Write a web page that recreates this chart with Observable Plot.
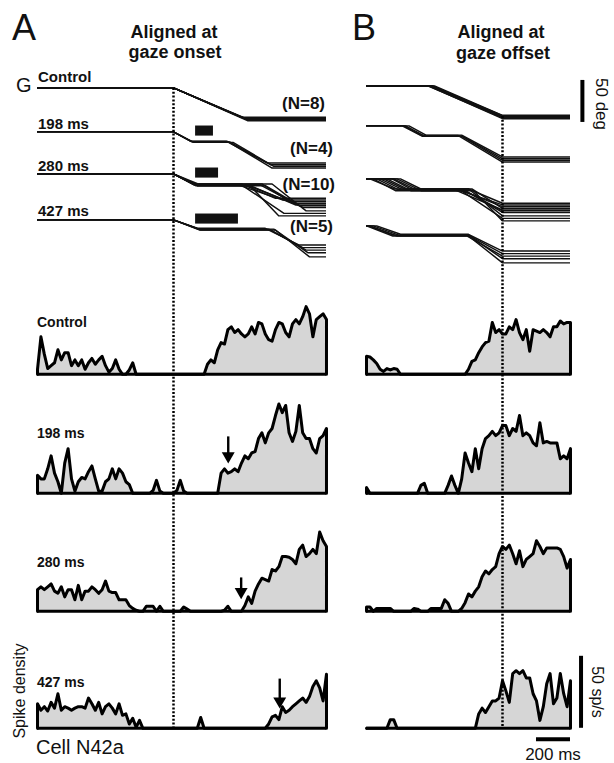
<!DOCTYPE html>
<html><head><meta charset="utf-8">
<script src="https://cdn.jsdelivr.net/npm/d3@7"></script>
<script src="https://cdn.jsdelivr.net/npm/@observablehq/plot@0.6"></script>
<style>
html,body{margin:0;padding:0;background:#fff;overflow:hidden}
#fig{position:relative;width:614px;height:763px;font-family:"Liberation Sans",Arial,Helvetica,sans-serif;color:#111;overflow:hidden}
#fig svg{position:absolute}
.lbl{position:absolute;white-space:nowrap;line-height:1}
</style></head><body><div id="fig"></div>
<script>
// ================= DATA =================
const conditions = ["Control", "198 ms", "280 ms", "427 ms"];
const trialCounts = ["(N=8)", "(N=4)", "(N=10)", "(N=5)"];

// time samples (ms) of spike density traces
const timeA = d3.range(-800, 901, 20);   // aligned at gaze onset
const timeB = d3.range(-800, 401, 20);   // aligned at gaze offset

// spike density (sp/s), column A (aligned at gaze onset)
const spikeA_control = [3.5,26,14,4,6,8,17,10,15,15, 6,10,6,10,3.5,8,11,7,10,12.5, 6,1.5,4,10,3.5,0,0,3,8,0,
  0,0,0,0,0,0,0,0,0,0, 0,0,0,0,0,0,0,0,0,0,
  7,10,8,17,22,21,31,33,29,31, 28,26,28,33,28,36,35,28,24,23, 31,36,35,29,26,35,38,35,40,47, 42,26,38,40,42,38];
const spikeA_198 = [12.5,10,10,17,26,14,8,0,21,31, 10,1.5,8,11,10,15,19,10,1.5,1.5, 8,10,17,10,17,14,8,6,0,0,
  0,0,0,0,2,9,1.5,0,0,0, 0,2,9,1.5,0,0,0,0,0,0, 0,0,0,0,14,17,14,15,17,15,
  21,26,24,28,29,38,42,35,42,45, 54,62,56,61,42,36,43,61,42,38, 38,31,28,38,40,45];
const spikeA_280 = [15,17,15,17,19,14,12.5,17,10,15, 15,8,18,8,14,14,17,15,12.5,15, 21,14,13,13,8,8,8,4,2,0.7,
  0,0,3.5,3.5,3.5,0,3.5,0,0,0, 0,0,0,3,1.5,0,0,0,0,0, 0,0,0,0,0,0.7,3.5,0,0,0,
  0,4,10,5.5,14,19,23,22,21,29, 28,31,38,38,37.5,36,33,43,46,38, 40,43,40,55,49,45];
const spikeA_427 = [17,12.5,15,12,18,14,24,12.5,15,14, 12.5,14,15,15,14,21,17,12.5,18,10, 15,17,14,10,17,9,10,3,7,0.7,
  5.5,0,0,0,0,0,0,0,0,0, 0,0,0,0,0,0,0,0,7.5,0, 0,0,0,0,0,0,0,0,0,0,
  0,0,0,0,0,0,0,0,3,8, 9,6,15,11,12.5,15,17,19,21,18, 22,29,33,28,19,37.5];

// spike density (sp/s), column B (aligned at gaze offset)
const spikeB_control = [12.5,12,10,7.5,3.5,2,4,3,4,3.5, 0,0,0,0,0,0,0,0,0,0, 0,0,0,0,0,0,0,0,0,0,
  3.5,9,10,15,19,22,23,36,29,31, 28,28,33,31,38,29,24,31,16,31, 30,29,31,29,26,33,33,37,35,36, 36];
const spikeB_198 = [4,0,0,0,0,0,0,0,0,0, 0,0,0,0,0,0,5.5,7,0,0, 0,0,0,0,5.5,12,5.5,0,10,28,
  21,15,31,17,31,38,40,43,40,42, 47,47,40,45,43,54,40,42,40,35, 33,49,35,36,35,35,35,24,26,24, 31];
const spikeB_280 = [3,3,0,2,2,2,2,2,0,0, 0,0,0,0,2,1.5,0,0,0,2, 2,2,2,8,5.5,0,0,0,2,6,
  12,10,14,17,24,28,26,29,31,40, 45,43,46,40,33,42,31,36,38,40, 49,45,40,44,44,44,44,43,38,30, 36];
const spikeB_427 = [0,0,0,0,0,0,0,6,6,0, 0,0,0,0,0,0,0,0,0,0, 0,0,0,0,0,0,0,0,0,0,
  0,0,0,10,14,11,15,19,19,21, 33,26,18,38,40,38,40,35,35,24, 19,5.5,15,31,38,17,21,38,24,15, 33];

// arrows marking response onset (column A), ms and sp/s
const arrowTime = [null, 322, 398, 625];
const arrowTop  = [null, 35, 19, 30];
const arrowTip  = [null, 21, 8.7, 14];

// gaze trials (ms after gaze onset, amplitude in deg)
const ctlEnd = [400,410,420,425,430,440,415,435];
const ctlAmp = [35,36,36.5,37,37.5,38,35.5,39];
const s198Step1End = [100,110,120,105];
const s198Step1Amp = [11,12,12.5,11.5];
const s198Step2Start = [310,330,350,320];
const s198Step2End = [550,570,590,580];
const s198Amp = [37,39,41,43];
const s280Step1End = [120,130,140,125,135,130,145,120,140,130];
const s280Step1Amp = [12,13,14,12,13,14,12,13,14,13];
const s280Step2Start = [400,380,440,520,440,540,580,400,450,510];
const s280Step2End = [600,640,680,700,720,760,780,650,620,740];
const s280Amp = [29,31,33,35,37,40,44,47,50,38];
const s427Step1End = [140,150,160,150,155];
const s427Step1Amp = [10,11,12,11,12];
const s427Step2Start = [540,560,570,590,600];
const s427Step2End = [740,760,780,790,800];
const s427Amp = [30,33,36,39,44];

// stimulation bars (ms after gaze onset)
const stimStart = [130, 130, 130];
const stimEnd = [235, 265, 382];

// scale bars
const scaleDeg = 50, scaleRate = 50, scaleTime = 200;

// ================= LAYOUT =================
const fig = document.getElementById("fig");
const MS = 0.17, SP = 1.44, DG = 0.84;
const colA = {domain: [-800, 900], zero: 173, ml: 12, mr: 12};
const colB = {domain: [-800, 400], zero: 502, ml: 12, mr: 40};
const gazeBaseA = [87.5, 131, 173.5, 219.5];
const gazeBaseB = [85.5, 125.7, 178.3, 225];
const spikeBase = [373.5, 493, 610.5, 727.5];

function plotAt(col, top, height, yopt, marks) {
  const xl = col.zero + MS * col.domain[0], xr = col.zero + MS * col.domain[1];
  const width = col.ml + (xr - xl) + col.mr;
  const opts = {width, height, marginLeft: col.ml, marginRight: col.mr, marginTop: 0, marginBottom: 0,
    x: {domain: col.domain, axis: null}, marks,
    style: {background: "transparent", overflow: "visible"}};
  if (yopt) opts.y = yopt;
  const svg = Plot.plot(opts);
  svg.style.left = (xl - col.ml) + "px";
  svg.style.top = top + "px";
  fig.appendChild(svg);
}

function trialsOf(e1, a1, s2, e2, a2) {
  return e1.map((_, i) => ({e1: e1[i], a1: a1[i], s2: s2[i], e2: e2[i], a2: a2[i]}));
}
const gazeTrials = [
  trialsOf(ctlEnd, ctlAmp, ctlEnd, ctlEnd, ctlAmp),
  trialsOf(s198Step1End, s198Step1Amp, s198Step2Start, s198Step2End, s198Amp),
  trialsOf(s280Step1End, s280Step1Amp, s280Step2Start, s280Step2End, s280Amp),
  trialsOf(s427Step1End, s427Step1Amp, s427Step2Start, s427Step2End, s427Amp)
];

function gazePanel(col, base, trials, alignOffset, extra) {
  const lo = -10, hi = 60;
  const top = base + DG * lo - 4, height = DG * (hi - lo) + 8;
  const pts = [];
  trials.forEach((tr, k) => {
    const sh = alignOffset ? -tr.e2 : 0;
    const seq = [[Math.min(col.domain[0], sh), 0], [sh, 0], [sh + tr.e1, tr.a1], [sh + tr.s2, tr.a1],
                 [sh + tr.e2, tr.a2], [col.domain[1], tr.a2]];
    seq.forEach(([t, a]) => pts.push({trial: k, t, a}));
  });
  const marks = [
    Plot.line(pts, {x: "t", y: "a", z: "trial", stroke: "#111", strokeWidth: 1.45, strokeLinejoin: "round", clip: true}),
    ...(extra || [])
  ];
  plotAt(col, top, height, {domain: [lo, hi], range: [base - top + DG * lo, base - top + DG * hi], axis: null}, marks);
}

function spikePanel(col, base, times, vals, extra, lo = -4) {
  const hi = 70;
  const top = base - SP * hi - 4, height = SP * (hi - lo) + 8;
  const pts = times.map((t, i) => ({t, v: vals[i]}));
  const outline = [{t: times[0], v: 0}, ...pts, {t: times[times.length - 1], v: 0}];
  const marks = [
    Plot.areaY(pts, {x: "t", y: "v", fill: "#d6d6d6"}),
    Plot.ruleY([0], {stroke: "#000", strokeWidth: 3}),
    Plot.line(outline, {x: "t", y: "v", stroke: "#000", strokeWidth: 3, strokeLinejoin: "round"}),
    ...(extra || [])
  ];
  plotAt(col, top, height, {domain: [lo, hi], range: [base - top - SP * lo, base - top - SP * hi], axis: null}, marks);
}

// ---- gaze panels ----
gazeTrials.forEach((trials, i) => {
  const extraA = i > 0 ? [Plot.rect([{s: stimStart[i - 1], e: stimEnd[i - 1]}], {x1: "s", x2: "e", y1: -7, y2: 5, fill: "#111"})] : [];
  gazePanel(colA, gazeBaseA[i], trials, false, extraA);
  const extraB = i === 0 ? [Plot.ruleX([{t: 470, v: scaleDeg}], {x: "t", y1: -6.5, y2: d => -6.5 + d.v, stroke: "#000", strokeWidth: 4})] : [];
  gazePanel(colB, gazeBaseB[i], trials, true, extraB);
});

// ---- spike panels ----
const spikesA = [spikeA_control, spikeA_198, spikeA_280, spikeA_427];
const spikesB = [spikeB_control, spikeB_198, spikeB_280, spikeB_427];
spikesA.forEach((vals, i) => {
  const extra = [];
  if (arrowTime[i] != null) {
    const a = [{t: arrowTime[i], top: arrowTop[i], tip: arrowTip[i]}];
    extra.push(Plot.ruleX(a, {x: "t", y1: "top", y2: "tip", stroke: "#000", strokeWidth: 2.4, dy: -6}));
    extra.push(Plot.dot(a, {x: "t", y: "tip", symbol: "triangle", rotate: 180, r: 4.8, fill: "#000", stroke: "none", dy: -7}));
  }
  spikePanel(colA, spikeBase[i], timeA, vals, extra);
});
spikesB.forEach((vals, i) => {
  const extra = [];
  let lo = -4;
  if (i === 3) {
    lo = -12;
    extra.push(Plot.ruleX([{t: 462, v: scaleRate}], {x: "t", y1: 0, y2: "v", stroke: "#000", strokeWidth: 4}));
    extra.push(Plot.ruleY([{s: 400 - scaleTime, e: 400, y: -7.6}], {x1: "s", x2: "e", y: "y", stroke: "#000", strokeWidth: 4}));
  }
  spikePanel(colB, spikeBase[i], timeB, vals, extra, lo);
});

// ---- dotted alignment lines ----
function alignLine(col, top, bottom) {
  plotAt(col, top, bottom - top, null, [
    Plot.ruleX([0], {stroke: "#000", strokeWidth: 2.5, strokeDasharray: "2 1.8"})
  ]);
}
alignLine(colA, 88, 727.5);
alignLine(colB, 116, 727.5);

// ================= TEXT =================
function label(str, x, baseline, size, weight = "normal", anchor = "start") {
  const d = document.createElement("div");
  d.className = "lbl";
  d.textContent = str;
  d.style.fontSize = size + "px";
  d.style.fontWeight = weight;
  d.style.left = x + "px";
  d.style.top = (baseline - 0.8465 * size) + "px";
  if (anchor === "middle") d.style.transform = "translateX(-50%)";
  if (anchor === "end") d.style.transform = "translateX(-100%)";
  fig.appendChild(d);
}
function rotLabel(str, cx, cy, size, deg, weight = "normal") {
  const d = document.createElement("div");
  d.className = "lbl";
  d.textContent = str;
  d.style.fontSize = size + "px";
  d.style.fontWeight = weight;
  d.style.left = cx + "px";
  d.style.top = cy + "px";
  d.style.transform = `translate(-50%,-50%) rotate(${deg}deg)`;
  fig.appendChild(d);
}

label("A", 12, 40, 36);
label("B", 352, 40, 36);
label("Aligned at", 174, 38, 18, "bold", "middle");
label("gaze onset", 175, 58, 18, "bold", "middle");
label("Aligned at", 501, 38, 18, "bold", "middle");
label("gaze offset", 503, 59, 18, "bold", "middle");
label("G", 16, 92, 20);

const gazeLabelBase = [81.7, 129, 170.5, 216];
conditions.forEach((c, i) => label(c, 38, gazeLabelBase[i], 15, "bold"));
const nRight = [325, 333, 335, 333], nBase = [109, 154, 190, 232];
trialCounts.forEach((n, i) => label(n, nRight[i], nBase[i], 17, "bold", "end"));

const spikeLabelBase = [327, 438, 567, 687];
conditions.forEach((c, i) => label(c, 37, spikeLabelBase[i], 14, "bold"));

rotLabel("Spike density", 20, 691, 16, -90);
label("Cell N42a", 36, 754, 20);
rotLabel(scaleDeg + " deg", 601, 104, 17, 90);
rotLabel(scaleRate + " sp/s", 597, 692, 16, 90);
label(scaleTime + " ms", 553, 760, 17, "normal", "middle");
</script></body></html>
